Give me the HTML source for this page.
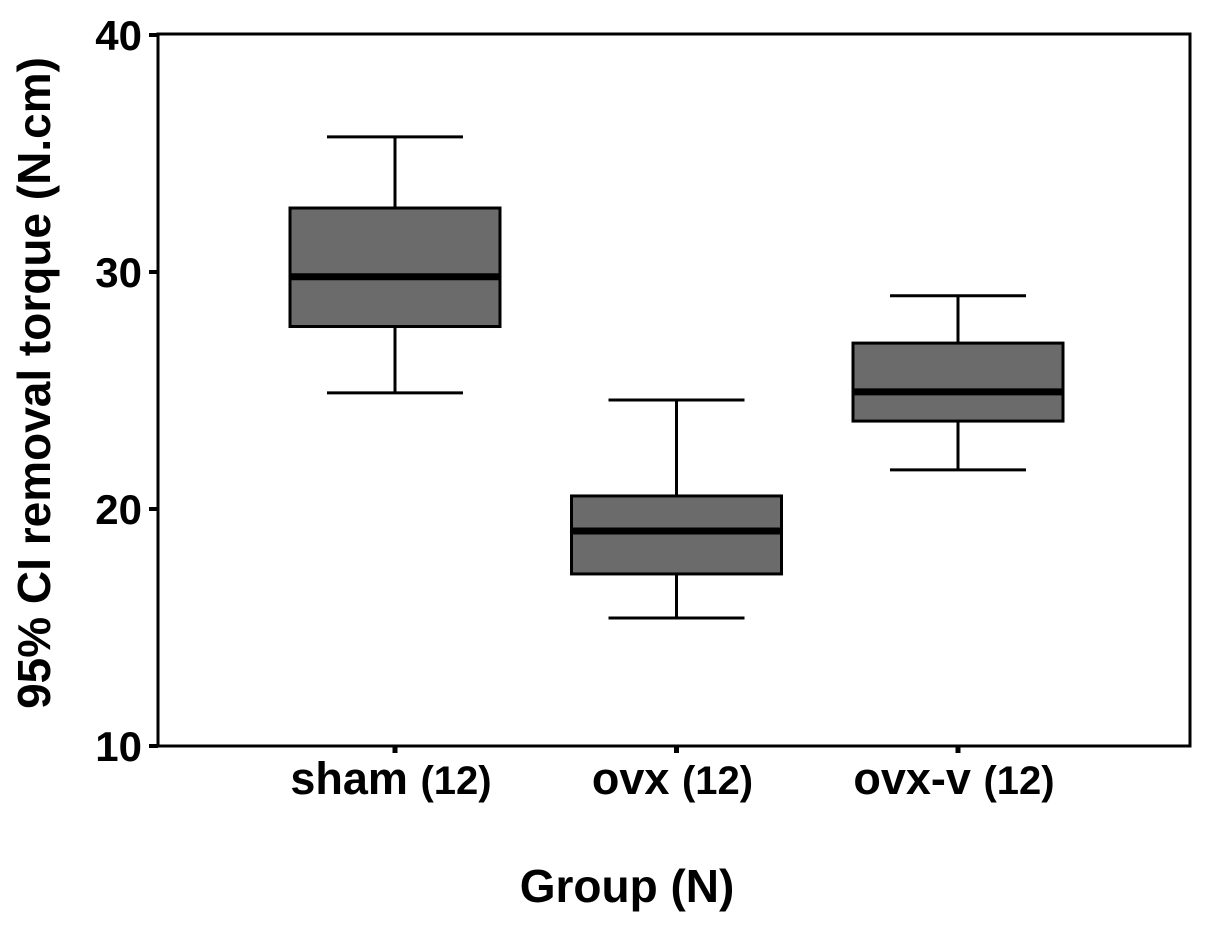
<!DOCTYPE html>
<html><head><meta charset="utf-8"><style>
body{margin:0;background:#fff;}
svg{display:block;font-family:"Liberation Sans",Arial,sans-serif;font-weight:bold;}
</style></head><body>
<svg width="1205" height="939" viewBox="0 0 1205 939">
<rect x="0" y="0" width="1205" height="939" fill="#fff"/>
<rect x="158" y="34" width="1032" height="712" fill="none" stroke="#000" stroke-width="3"/>
<g id="yaxis"></g>
<g id="boxes"></g>
<g id="xaxis"></g>
<text x="627" y="902" font-size="46" text-anchor="middle">Group (N)</text>
<text transform="translate(50,383) rotate(-90)" font-size="46" text-anchor="middle">95% CI removal torque (N.cm)</text>
</svg>
<script>
const categories=["sham","ovx","ovx-v"];
const counts=["(12)","(12)","(12)"];
const whiskerHigh=[35.7,24.6,29.0];
const q3=[32.7,20.55,27.0];
const medians=[29.8,19.07,24.94];
const q1=[27.7,17.26,23.71];
const whiskerLow=[24.9,15.4,21.65];
const yTicks=[10,20,30,40];
const NS="http://www.w3.org/2000/svg";
const y=v=>746-(v-10)*(711/30);
const xc=i=>395+i*281.5;
function mk(tag,attrs,parent){const e=document.createElementNS(NS,tag);for(const k in attrs)e.setAttribute(k,attrs[k]);parent.appendChild(e);return e;}
const ya=document.getElementById('yaxis');
yTicks.forEach(t=>{
 const l=mk('line',{x1:149,x2:158,y1:y(t),y2:y(t),stroke:'#000','stroke-width':4},ya);
 
 
 const tx=mk('text',{x:142,y:y(t)+15,'font-size':42,'text-anchor':'end'},ya);
 tx.textContent=t;
 
 
});
const bx=document.getElementById('boxes');
categories.forEach((c,i)=>{
 const cx=xc(i),g=mk('g',{},bx);
 
 
 const s={stroke:'#000','stroke-width':3};
 mk('line',Object.assign({x1:cx,x2:cx,y1:y(whiskerHigh[i]),y2:y(q3[i])},s),g);
 mk('line',Object.assign({x1:cx,x2:cx,y1:y(q1[i]),y2:y(whiskerLow[i])},s),g);
 mk('line',Object.assign({x1:cx-68,x2:cx+68,y1:y(whiskerHigh[i]),y2:y(whiskerHigh[i])},s),g);
 mk('line',Object.assign({x1:cx-68,x2:cx+68,y1:y(whiskerLow[i]),y2:y(whiskerLow[i])},s),g);
 mk('rect',{x:cx-105,y:y(q3[i]),width:210,height:y(q1[i])-y(q3[i]),fill:'#6b6b6b',stroke:'#000','stroke-width':3},g);
 mk('line',{x1:cx-105,x2:cx+105,y1:y(medians[i]),y2:y(medians[i]),stroke:'#000','stroke-width':7},g);
});
const xa=document.getElementById('xaxis');
categories.forEach((c,i)=>{
 const cx=xc(i);
 const l=mk('line',{x1:cx,x2:cx,y1:746,y2:753,stroke:'#000','stroke-width':5},xa);
 
 
 const tx=mk('text',{x:cx-4,y:794,'text-anchor':'middle'},xa);
 
 
 const a=mk('tspan',{'font-size':45},tx);a.textContent=c+' ';
 const b=mk('tspan',{'font-size':40},tx);b.textContent=counts[i];
});
</script>
</body></html>
